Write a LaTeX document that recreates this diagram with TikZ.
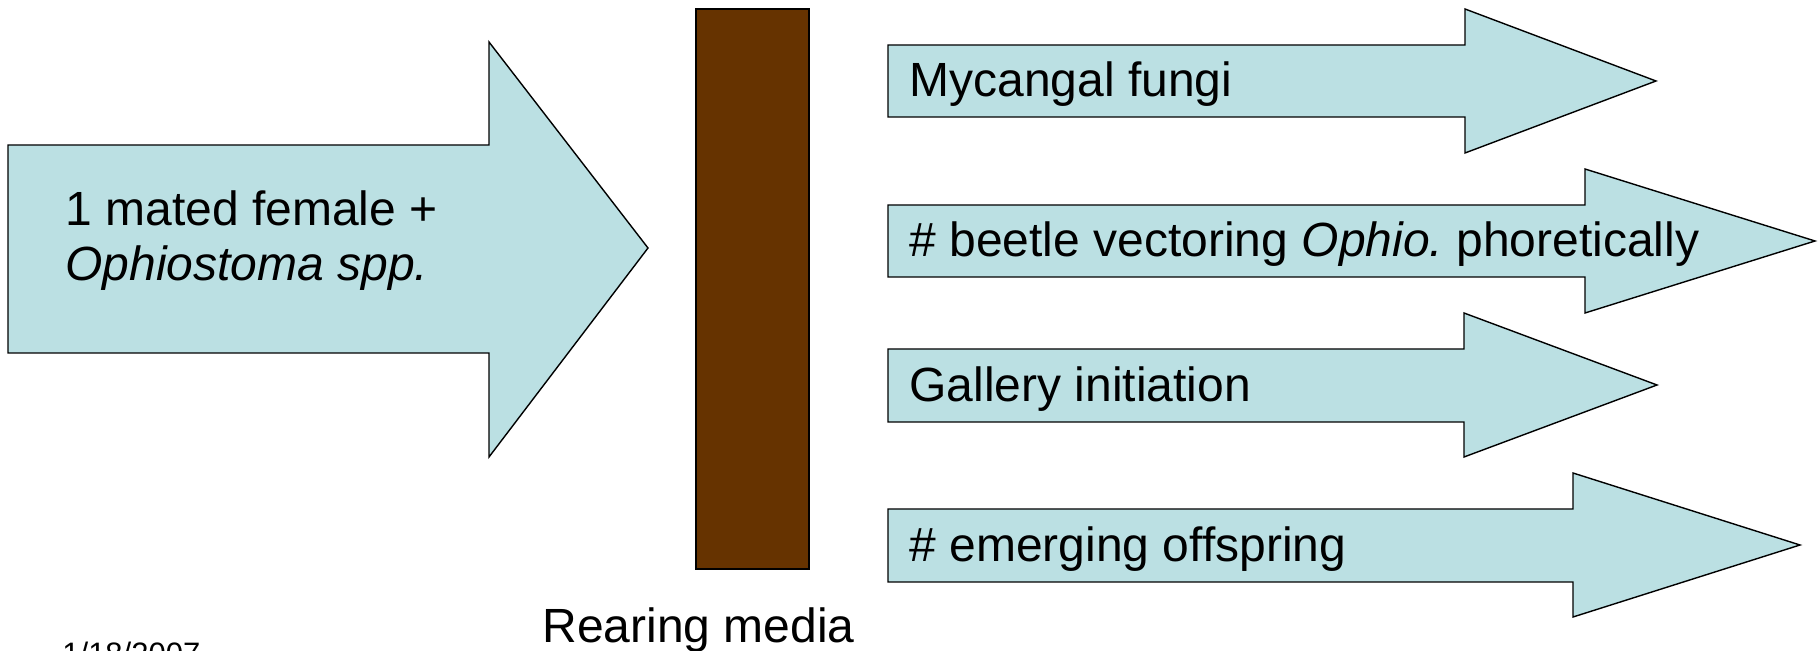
\documentclass[tikz,border=0pt]{standalone}
\usepackage{fontspec}
\setmainfont{Liberation Sans}
\frenchspacing
\definecolor{arrowfill}{HTML}{BBE0E3}
\definecolor{media}{HTML}{663300}
\tikzset{
  flowarrow/.style={draw=black, fill=arrowfill, line width=0.7pt, line join=miter},
  mediabox/.style={draw=black, fill=media, line width=0.7pt},
  lbl/.style={anchor=base west, inner sep=0pt, font=\fontsize{24}{28}\selectfont},
  datelbl/.style={anchor=base west, inner sep=0pt, font=\fontsize{15.5}{18}\selectfont}
}
% #1 left, #2 shaft top, #3 shaft bottom, #4 head base, #5 head top, #6 head bottom, #7 tip x, #8 tip y
\newcommand\blockarrow[8]{%
  \path[flowarrow] (#1,#2) -- (#4,#2) -- (#4,#5) -- (#7,#8) -- (#4,#6) -- (#4,#3) -- (#1,#3) -- cycle;}
\begin{document}
\begin{tikzpicture}[x=0.5pt,y=-0.5pt]
\useasboundingbox (0,0) rectangle (1820,651);
% input arrow
\blockarrow{8}{145}{353}{489}{42}{457}{648}{248}
\node[lbl] (in1) at (65,226) {1 mated female +};
\node[lbl] (in2) at (65,281) {\itshape Ophiostoma spp.};
% rearing media
\path[mediabox] (696,9) rectangle (809,569);
\node[lbl] (media) at (542,642) {Rearing media};
% output arrows
\blockarrow{888}{45}{117}{1465}{9}{153}{1656}{81}
\node[lbl] (o1) at (909,97) {Mycangal fungi};
\blockarrow{888}{205}{277}{1585}{169}{313}{1815}{241}
\node[lbl] (o2) at (909,257) {\# beetle vectoring {\itshape Ophio.} phoretically};
\blockarrow{888}{349}{422}{1464}{313}{457}{1657}{385}
\node[lbl] (o3) at (909,402) {Gallery initiation};
\blockarrow{888}{509}{582}{1573}{473}{617}{1800}{545}
\node[lbl] (o4) at (909,562) {\# emerging offspring};
% date
\node[datelbl] (date) at (62,664) {1/18/2007};
\end{tikzpicture}
\end{document}
